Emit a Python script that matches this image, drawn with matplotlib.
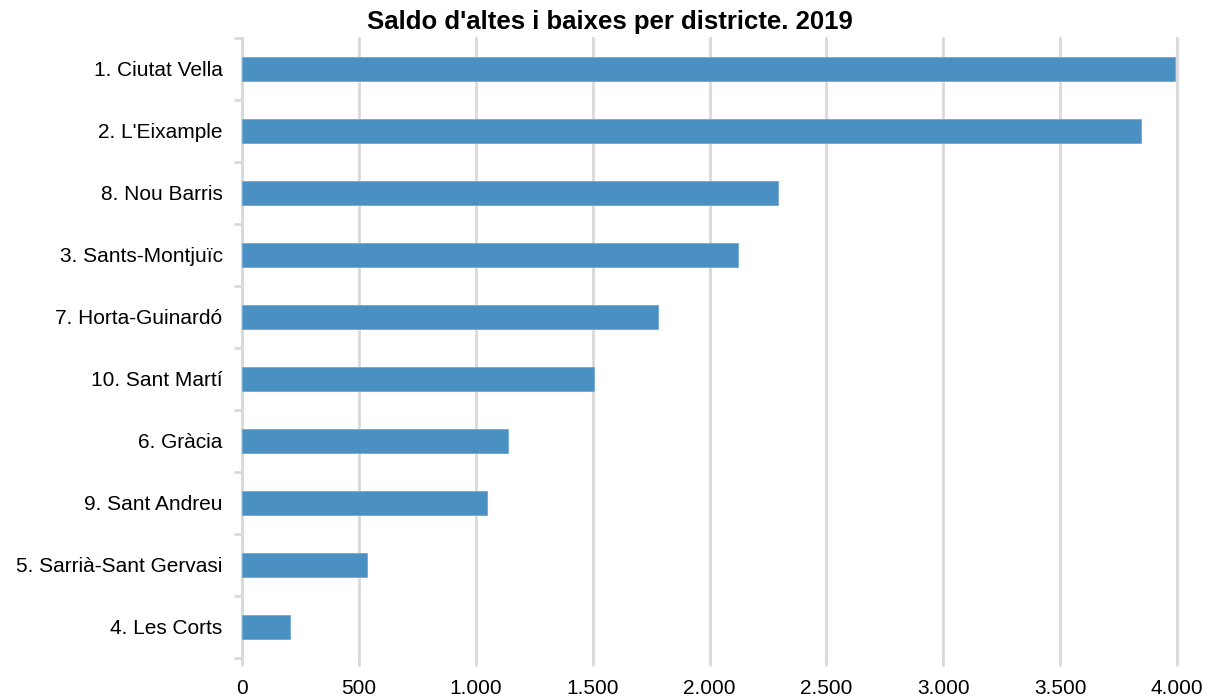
import matplotlib.pyplot as plt
from matplotlib.ticker import FuncFormatter, FixedLocator

districts = ['1. Ciutat Vella', "2. L'Eixample", '8. Nou Barris', '3. Sants-Montjuïc',
             '7. Horta-Guinardó', '10. Sant Martí', '6. Gràcia', '9. Sant Andreu',
             '5. Sarrià-Sant Gervasi', '4. Les Corts']
saldo = [3991, 3846, 2293, 2122, 1780, 1506, 1138, 1048, 535, 205]

plt.rcParams['font.family'] = ['Liberation Sans', 'DejaVu Sans']

fig = plt.figure(figsize=(12.15, 6.98), dpi=100)
ax = fig.add_axes([242 / 1215, 1 - 658 / 698, 935 / 1215, 620 / 698])

pos = list(range(len(districts)))
ax.barh(pos, saldo, height=0.39, color='#4a90c2', edgecolor='#6fa8d4', linewidth=0.6, zorder=3)

ax.set_ylim(len(districts) - 0.5, -0.5)
ax.set_xlim(0, 4000)
ax.set_xticks(range(0, 4001, 500))
ax.xaxis.set_major_formatter(FuncFormatter(lambda v, p: f'{int(v):,}'.replace(',', '.')))
ax.set_yticks(pos)
ax.set_yticklabels(districts)
ax.yaxis.set_minor_locator(FixedLocator([i - 0.5 for i in range(len(districts) + 1)]))

ax.grid(axis='x', color='#d9d9d9', linewidth=2, zorder=0)
for line in ax.get_xgridlines():
    line.set_clip_on(False)
for s in ['top', 'right', 'bottom']:
    ax.spines[s].set_visible(False)
ax.spines['left'].set_color('#d9d9d9')
ax.spines['left'].set_linewidth(2)

ax.tick_params(axis='y', which='major', length=0, pad=14, labelsize=15)
ax.tick_params(axis='y', which='minor', length=6, width=2, color='#d9d9d9')
ax.tick_params(axis='x', length=6, width=2, color='#d9d9d9', labelsize=15, pad=9)

fig.text(0.502, 1 - 22 / 698, "Saldo d'altes i baixes per districte. 2019",
         ha='center', va='center', fontsize=18.5, fontweight='bold')

fig.savefig('out.png', dpi=100)
